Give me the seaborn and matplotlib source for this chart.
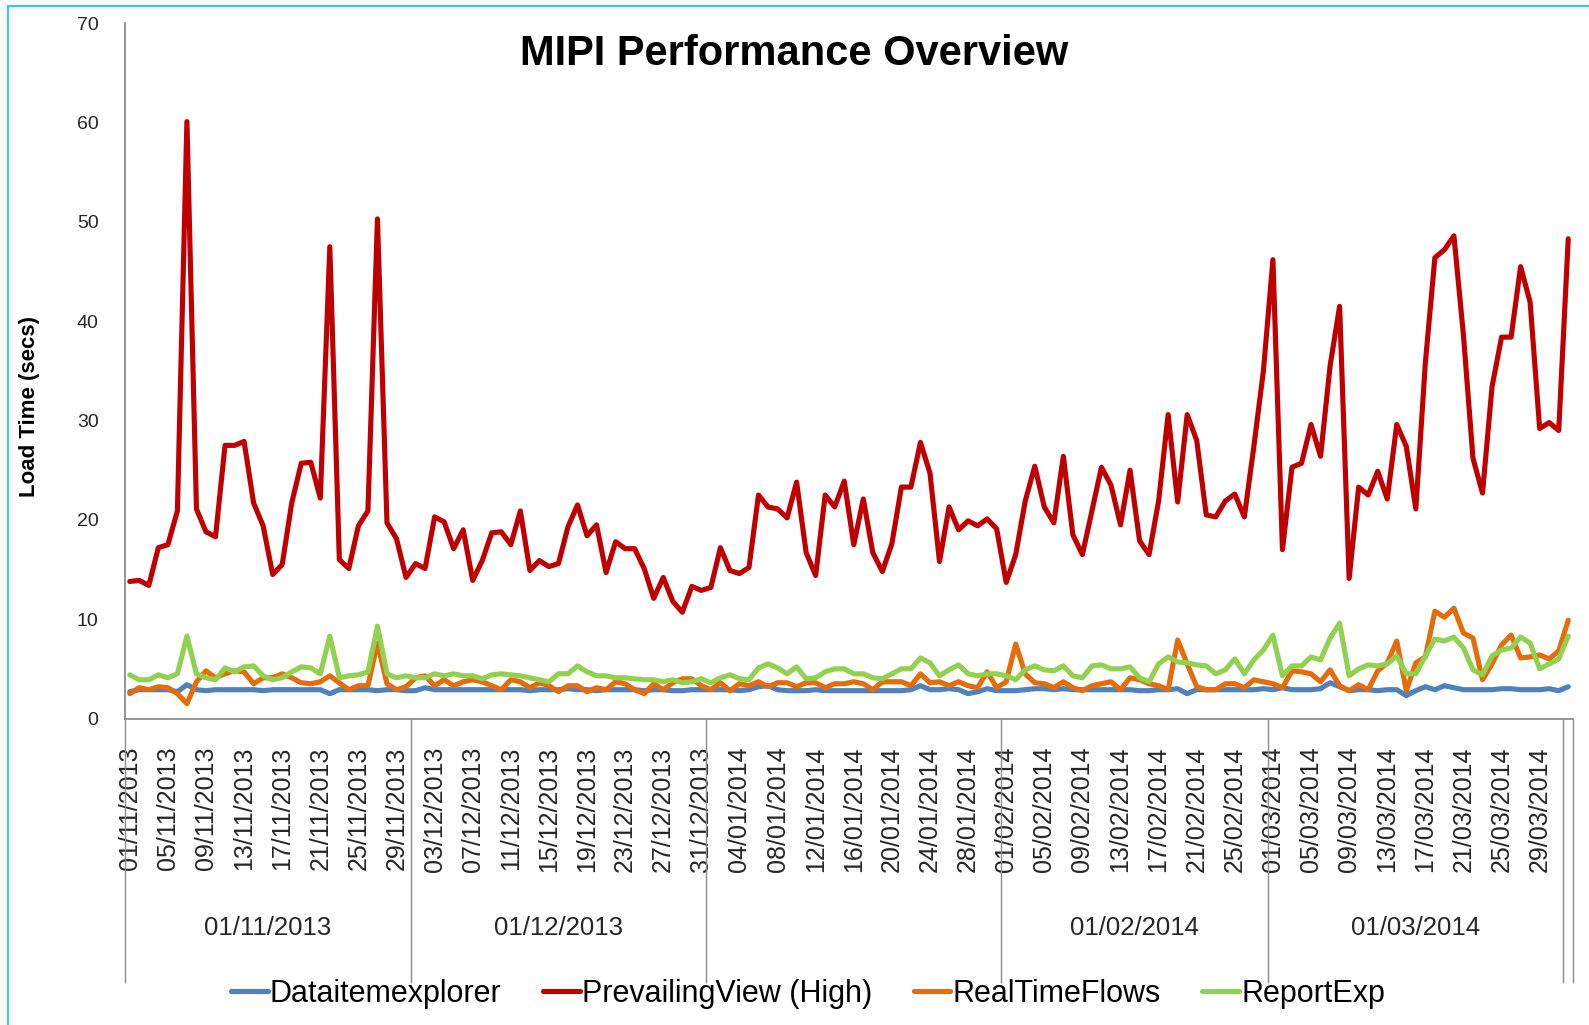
import matplotlib
import numpy as np
import pandas as pd

matplotlib.use("Agg")
import matplotlib.pyplot as plt
import seaborn as sns
from matplotlib.patches import Rectangle

# daily load times, 01/11/2013 .. 01/04/2014
dates = pd.date_range("2013-11-01", "2014-04-01", freq="D")

datitem = [
    2.7, 2.9, 2.9, 2.9, 2.9, 2.7, 3.4, 2.9, 2.8, 2.9, 2.9, 2.9, 2.9, 2.9, 2.8,
    2.9, 2.9, 2.9, 2.9, 2.9, 2.9, 2.5, 2.9, 2.9, 2.9, 2.9, 2.8, 2.9, 2.9, 2.8,
    2.8, 3.1, 2.9, 2.9, 2.9, 2.9, 2.9, 2.9, 2.9, 2.9, 2.9, 2.9, 2.8, 2.9, 2.9,
    2.9, 3.0, 2.9, 2.9, 2.8, 2.9, 2.9, 2.9, 2.9, 2.8, 2.9, 2.9, 2.8, 2.8, 2.9,
    2.9, 2.9, 2.9, 2.9, 2.8, 2.9, 3.2, 3.3, 2.9, 2.8, 2.8, 2.8, 2.9, 2.8, 2.8,
    2.8, 2.8, 2.8, 2.8, 2.8, 2.8, 2.8, 2.9, 3.3, 2.9, 2.9, 3.0, 2.9, 2.5, 2.7,
    3.0, 2.8, 2.8, 2.8, 2.9, 3.0, 3.0, 2.9, 3.0, 2.9, 2.9, 2.9, 2.9, 2.9, 2.9,
    2.9, 2.8, 2.8, 2.9, 2.9, 3.0, 2.5, 2.9, 2.9, 2.9, 2.9, 2.9, 2.9, 2.9, 3.0,
    2.9, 3.1, 2.9, 2.9, 2.9, 3.0, 3.6, 3.2, 2.8, 2.9, 2.9, 2.8, 2.9, 2.9, 2.3,
    2.8, 3.2, 2.9, 3.3, 3.1, 2.9, 2.9, 2.9, 2.9, 3.0, 3.0, 2.9, 2.9, 2.9, 3.0,
    2.8, 3.2,
]
prevailing = [
    13.8, 13.9, 13.4, 17.2, 17.5, 20.9, 60.1, 21.1, 18.8, 18.3,
    27.5, 27.5, 27.9, 21.7, 19.4, 14.5, 15.5, 21.7, 25.7, 25.8,
    22.2, 47.5, 16.0, 15.1, 19.4, 20.9, 50.3, 19.7, 18.1, 14.2,
    15.6, 15.1, 20.3, 19.8, 17.1, 19.0, 13.9, 15.9, 18.7, 18.8,
    17.5, 20.9, 14.9, 15.9, 15.3, 15.6, 19.3, 21.5, 18.4, 19.5,
    14.7, 17.8, 17.1, 17.1, 15.1, 12.1, 14.2, 11.8, 10.7, 13.3,
    12.9, 13.2, 17.2, 14.9, 14.6, 15.2, 22.5, 21.3, 21.1, 20.2,
    23.8, 16.7, 14.4, 22.5, 21.3, 23.9, 17.5, 22.1, 16.7, 14.8,
    17.6, 23.3, 23.3, 27.8, 24.7, 15.8, 21.3, 19.0, 19.9, 19.4,
    20.1, 19.1, 13.7, 16.5, 21.9, 25.4, 21.3, 19.7, 26.4, 18.5,
    16.5, 20.9, 25.3, 23.5, 19.5, 25.0, 17.9, 16.5, 21.9, 30.6,
    21.8, 30.6, 28.0, 20.5, 20.3, 21.9, 22.6, 20.3, 27.4, 35.0,
    46.2, 17.0, 25.3, 25.7, 29.6, 26.4, 35.5, 41.5, 14.1, 23.3,
    22.5, 24.9, 22.1, 29.6, 27.4, 21.1, 35.8, 46.4, 47.2, 48.6,
    38.6, 26.2, 22.7, 33.4, 38.4, 38.4, 45.5, 41.9, 29.2, 29.8,
    29.0, 48.3,
]
realtime = [
    2.5, 3.1, 2.9, 3.2, 3.1, 2.5, 1.5, 3.7, 4.8, 4.1, 4.5, 4.8, 4.7, 3.5, 4.1,
    4.1, 4.5, 4.1, 3.6, 3.5, 3.7, 4.3,
    3.6, 2.9, 3.3, 3.3, 7.6, 3.5, 2.9, 3.2, 4.1, 4.3, 3.3, 3.9, 3.3, 3.7, 3.9,
    3.7, 3.3, 2.9, 3.9, 3.7, 3.1, 3.6,
    3.3, 2.7, 3.3, 3.3, 2.7, 3.1, 2.9, 3.7, 3.5, 2.9, 2.5, 3.5, 2.9, 3.6, 4.0,
    4.0, 3.3, 2.9, 3.6, 2.8, 3.5,
    3.3, 3.7, 3.2, 3.6, 3.6, 3.2, 3.6, 3.6, 3.1, 3.5, 3.5, 3.7, 3.5, 2.9, 3.7,
    3.7, 3.7, 3.3, 4.5, 3.6, 3.7, 3.3,
    3.7, 3.3, 3.1, 4.7, 3.1, 3.7, 7.5, 4.5, 3.6, 3.5, 3.1, 3.7, 3.1, 2.8, 3.3,
    3.5, 3.7, 2.9, 4.1, 3.9, 3.5,
    3.3, 2.9, 7.9, 5.5, 3.2, 2.9, 2.9, 3.5, 3.5, 3.1, 3.9, 3.7, 3.5, 3.1, 4.8,
    4.7, 4.5, 3.7, 4.9, 3.3, 2.8, 3.4,
    2.9, 4.8, 5.6, 7.8, 2.8, 5.6, 6.2, 10.8, 10.2, 11.1, 8.6, 8.1, 3.9, 5.5,
    7.4, 8.4, 6.1, 6.2, 6.4, 6.0, 6.8, 9.9,
]
reportexp = [
    4.4, 3.9, 3.9, 4.4, 4.1, 4.5, 8.3, 4.5, 4.1, 3.9, 5.1, 4.7, 5.2, 5.3, 4.3,
    3.9, 4.1, 4.7, 5.2, 5.1, 4.5, 8.3,
    4.1, 4.3, 4.4, 4.7, 9.3, 4.5, 4.1, 4.3, 4.1, 4.1, 4.5, 4.3, 4.5, 4.3, 4.3,
    4.0, 4.4, 4.5, 4.4, 4.3, 4.1, 3.9,
    3.7, 4.5, 4.5, 5.3, 4.7, 4.3, 4.3, 4.1, 4.1, 4.0, 3.9, 3.9, 3.7, 3.9, 3.6,
    3.7, 4.0, 3.6, 4.1, 4.4, 4.0,
    3.9, 5.1, 5.5, 5.1, 4.5, 5.2, 4.0, 4.1, 4.7, 5.0, 5.0, 4.5, 4.5, 4.1, 4.0,
    4.5, 5.0, 5.0, 6.1, 5.6, 4.3, 4.9,
    5.4, 4.5, 4.3, 4.5, 4.5, 4.3, 3.9, 4.9, 5.3, 4.9, 4.8, 5.3, 4.3, 4.1, 5.3,
    5.4, 5.0, 5.0, 5.2, 4.1, 3.7,
    5.5, 6.2, 5.7, 5.6, 5.4, 5.3, 4.5, 4.9, 6.0, 4.5, 5.9, 6.9, 8.4, 4.3, 5.3,
    5.3, 6.2, 5.9, 8.1, 9.6, 4.3, 5.0,
    5.4, 5.3, 5.5, 6.3, 4.5, 4.5, 6.3, 8.0, 7.8, 8.2, 7.1, 4.9, 4.4, 6.3, 6.9,
    7.1, 8.2, 7.6, 5.0, 5.5, 6.0, 8.3,
]

series_names = ["Dataitemexplorer", "PrevailingView (High)", "RealTimeFlows", "ReportExp"]
series_colors = ["#4F81BD", "#C00000", "#E46C0A", "#92D050"]
month_labels = ["01/11/2013", "01/12/2013", "", "01/02/2014", "01/03/2014", ""]
y_ticks = [0, 10, 20, 30, 40, 50, 60, 70]

for s in (datitem, prevailing, realtime, reportexp):
    assert len(s) == len(dates), len(s)

df = pd.DataFrame({
    "day": np.arange(len(dates)),
    series_names[0]: datitem,
    series_names[1]: prevailing,
    series_names[2]: realtime,
    series_names[3]: reportexp,
})
long_df = df.melt(id_vars="day", var_name="series", value_name="secs")

sns.set_style("white")
plt.rcParams["font.family"] = ["Liberation Sans", "DejaVu Sans"]
text_color = "#262626"
axis_grey = "#8C8C8C"

W, H = 1589, 1025
fig = plt.figure(figsize=(W / 100, H / 100), dpi=100)
ax_left, ax_right, ax_top, ax_bottom = 125, 1573, 23.3, 718.5
ax = fig.add_axes([ax_left / W, 1 - ax_bottom / H,
                   (ax_right - ax_left) / W, (ax_bottom - ax_top) / H])

sns.lineplot(
    data=long_df, x="day", y="secs", hue="series",
    hue_order=series_names, palette=dict(zip(series_names, series_colors)),
    linewidth=3.7, ax=ax, legend=True,
)

n = len(dates)
ax.set_xlim(-0.5, n - 0.5)
ax.set_ylim(0, 70)
ax.set_yticks(y_ticks)
ax.set_yticklabels([str(t) for t in y_ticks], fontsize=14, color=text_color)
tick_idx = np.arange(0, n, 4)
tick_idx = tick_idx[tick_idx < n - 2]
ax.set_xticks(tick_idx)
ax.set_xticklabels([dates[i].strftime("%d/%m/%Y") for i in tick_idx],
                   rotation=90, fontsize=18, color=text_color, va="top")
ax.tick_params(axis="x", length=0, pad=20)
ax.tick_params(axis="y", length=0, pad=19)
ax.set_xlabel("")
ax.set_ylabel("Load Time (secs)", fontsize=16, fontweight="bold", color="black")
ax.yaxis.set_label_coords(-0.0587, 0.4495)

sns.despine(ax=ax)
for side in ("left", "bottom"):
    ax.spines[side].set_color(axis_grey)
    ax.spines[side].set_linewidth(1.3)

# month grouping under the day labels
starts = [i for i, d in enumerate(dates) if d.day == 1]
bounds = [s - 0.5 for s in starts] + [n - 0.5]
sep_bottom = -(983 - ax_bottom) / (ax_bottom - ax_top)
label_y = -(928 - ax_bottom) / (ax_bottom - ax_top)
ax.vlines(bounds, sep_bottom, 0, transform=ax.get_xaxis_transform(),
          colors=axis_grey, linewidth=1.0, clip_on=False)
for lab, b0, b1 in zip(month_labels, bounds[:-1], bounds[1:]):
    if lab:
        ax.text((b0 + b1) / 2, label_y, lab, transform=ax.get_xaxis_transform(),
                ha="center", va="center", fontsize=18.5, color=text_color)

sns.move_legend(
    ax, "center", bbox_to_anchor=(808 / W, 1 - 994 / H),
    bbox_transform=fig.transFigure, ncol=4, frameon=False, title=None,
    fontsize=22, handlelength=1.2, handletextpad=0.08, columnspacing=1.35,
)
for t in ax.get_legend().get_texts():
    t.set_color("black")

fig.text(0.5, 1 - 54 / H, "MIPI Performance Overview", ha="center", va="center",
         fontsize=30, fontweight="bold", color="black")

# light blue chart-area frame, cut off at the right and bottom edges
fig.add_artist(Rectangle((8 / W, -0.05), 1.1, 1.05 - 6 / H, fill=False,
                         edgecolor="#45C1EE", linewidth=1.6,
                         transform=fig.transFigure, clip_on=False))

fig.savefig("out.png", dpi=100)
plt.close(fig)
